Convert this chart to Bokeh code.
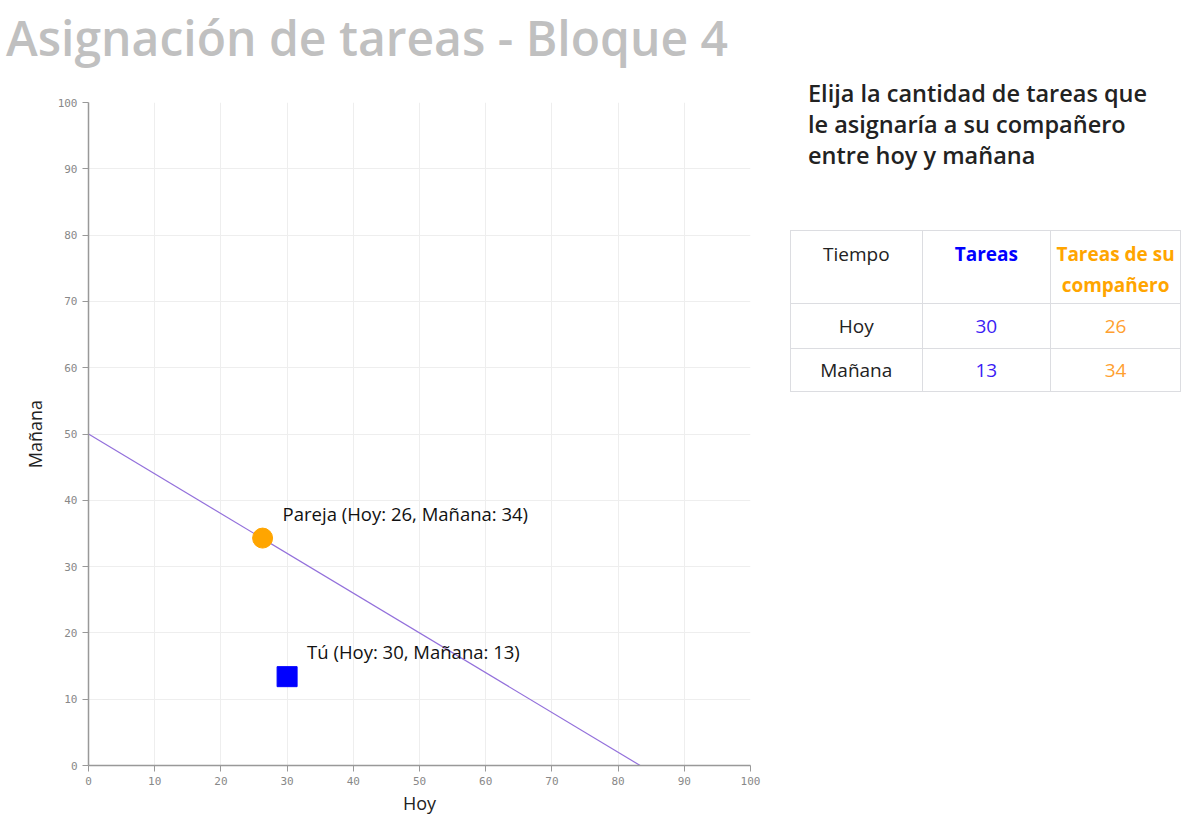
from bokeh.plotting import figure
from bokeh.models import Range1d, FixedTicker, Div, ColumnDataSource
from bokeh.layouts import column, row
from bokeh.core.properties import value
from bokeh.embed import file_html
from bokeh.resources import INLINE

# ---- data ----
tiempo = ["Hoy", "Mañana"]
tareas = [30.0, 13.4]            # Tú: hoy, mañana
tareas_companero = [26.3, 34.3]  # Pareja: hoy, mañana
budget_x = [0, 83.33]
budget_y = [50, 0]
ticks = [0, 10, 20, 30, 40, 50, 60, 70, 80, 90, 100]

FONT = "Open Sans"

title_div = Div(
    text='<div style="font-family:\'Open Sans\';font-weight:600;font-size:48px;color:#c0c0c0;'
         'line-height:60px;position:absolute;left:6px;top:8px;white-space:nowrap;">'
         'Asignación de tareas - Bloque 4</div>',
    width=1196, height=70, margin=0)

p = figure(width=770, height=749, x_range=Range1d(0, 100), y_range=Range1d(0, 100),
           output_backend="svg", toolbar_location=None,
           min_border_left=88, min_border_right=20, min_border_top=32, min_border_bottom=54)
p.outline_line_color = None
p.background_fill_color = "white"
p.border_fill_color = "white"
p.grid.grid_line_color = "#eeeeee"
p.grid.grid_line_width = 1
for ax in (p.xaxis, p.yaxis):
    ax.ticker = FixedTicker(ticks=ticks)
    ax.axis_line_color = "#999999"
    ax.axis_line_width = 1.5
    ax.major_tick_line_color = "#999999"
    ax.major_tick_out = 6
    ax.major_tick_in = 0
    ax.minor_tick_line_color = None
    ax.major_label_text_font = "DejaVu Sans Mono"
    ax.major_label_text_font_size = "11px"
    ax.major_label_text_color = "#888888"
    ax.axis_label_text_font = FONT
    ax.axis_label_text_font_size = "18px"
    ax.axis_label_text_font_style = "normal"
    ax.axis_label_text_color = "#222222"
p.xaxis.axis_label = "Hoy"
p.yaxis.axis_label = "Mañana"
p.xaxis.axis_label_standoff = 3
p.yaxis.axis_label_standoff = 8
p.xaxis.major_label_standoff = 5
p.yaxis.major_label_standoff = 5

p.line(budget_x, budget_y, line_color="#9370DB", line_width=1.2)

src_p = ColumnDataSource(dict(x=[tareas_companero[0]], y=[tareas_companero[1]],
                              t=[f"Pareja (Hoy: {round(tareas_companero[0])}, Mañana: {round(tareas_companero[1])})"]))
src_t = ColumnDataSource(dict(x=[tareas[0]], y=[tareas[1]],
                              t=[f"Tú (Hoy: {round(tareas[0])}, Mañana: {round(tareas[1])})"]))

p.scatter("x", "y", source=src_p, marker="circle", size=20, fill_color="#FFA500", line_color="#FFA500")
p.scatter("x", "y", source=src_t, marker="square", size=20, fill_color="#0000FF", line_color="#0000FF")
for s in (src_p, src_t):
    p.text("x", "y", text="t", source=s, x_offset=20, y_offset=-25,
           text_font=value(FONT), text_font_size="18.5px", text_color="#111111",
           text_baseline="middle", text_align="left")

# ---- right panel ----
def cell(txt, color, bold, h, top_pad, valign):
    return (f'<td style="border:1px solid #dcdde1;text-align:center;vertical-align:{valign};'
            f'padding:{top_pad}px 4px 0 4px;height:{h}px;color:{color};box-sizing:border-box;'
            f'font-weight:{"700" if bold else "400"};line-height:31px;">{txt}</td>')

row_h = [45, 43]
rows_html = ""
for i, t in enumerate(tiempo):
    rows_html += ("<tr>" + cell(t, "#222", False, row_h[i], 0, "middle") +
                  cell(str(round(tareas[i])), "#3b1cf5", False, row_h[i], 0, "middle") +
                  cell(str(round(tareas_companero[i])), "#FFA030", False, row_h[i], 0, "middle") + "</tr>")

table_html = (
    '<table style="border-collapse:collapse;font-family:\'Open Sans\';font-size:19px;'
    'position:absolute;left:20px;top:160px;width:391px;">'
    '<colgroup><col style="width:132px"><col style="width:129px"><col style="width:130px"></colgroup>'
    "<tr>" + cell("Tiempo", "#222", False, 73, 8, "top") +
    cell("Tareas", "#0000FF", True, 73, 8, "top") +
    cell("Tareas de su compañero", "#FFA500", True, 73, 8, "top") + "</tr>" +
    rows_html + "</table>"
)

text_html = (
    '<div style="position:absolute;left:38px;top:8px;font-family:\'Open Sans\';font-weight:600;'
    'font-size:23.5px;line-height:31px;color:#222;width:388px;white-space:nowrap;">'
    'Elija la cantidad de tareas que<br>le asignaría a su compañero<br>entre hoy y mañana</div>'
)

right_div = Div(text='<div style="position:relative;width:426px;height:749px;">' +
                text_html + table_html + '</div>', width=426, height=749, margin=0)

layout = column(title_div, row(p, right_div, spacing=0), spacing=0)

with open("out.html", "w") as f:
    f.write(file_html(layout, INLINE))
